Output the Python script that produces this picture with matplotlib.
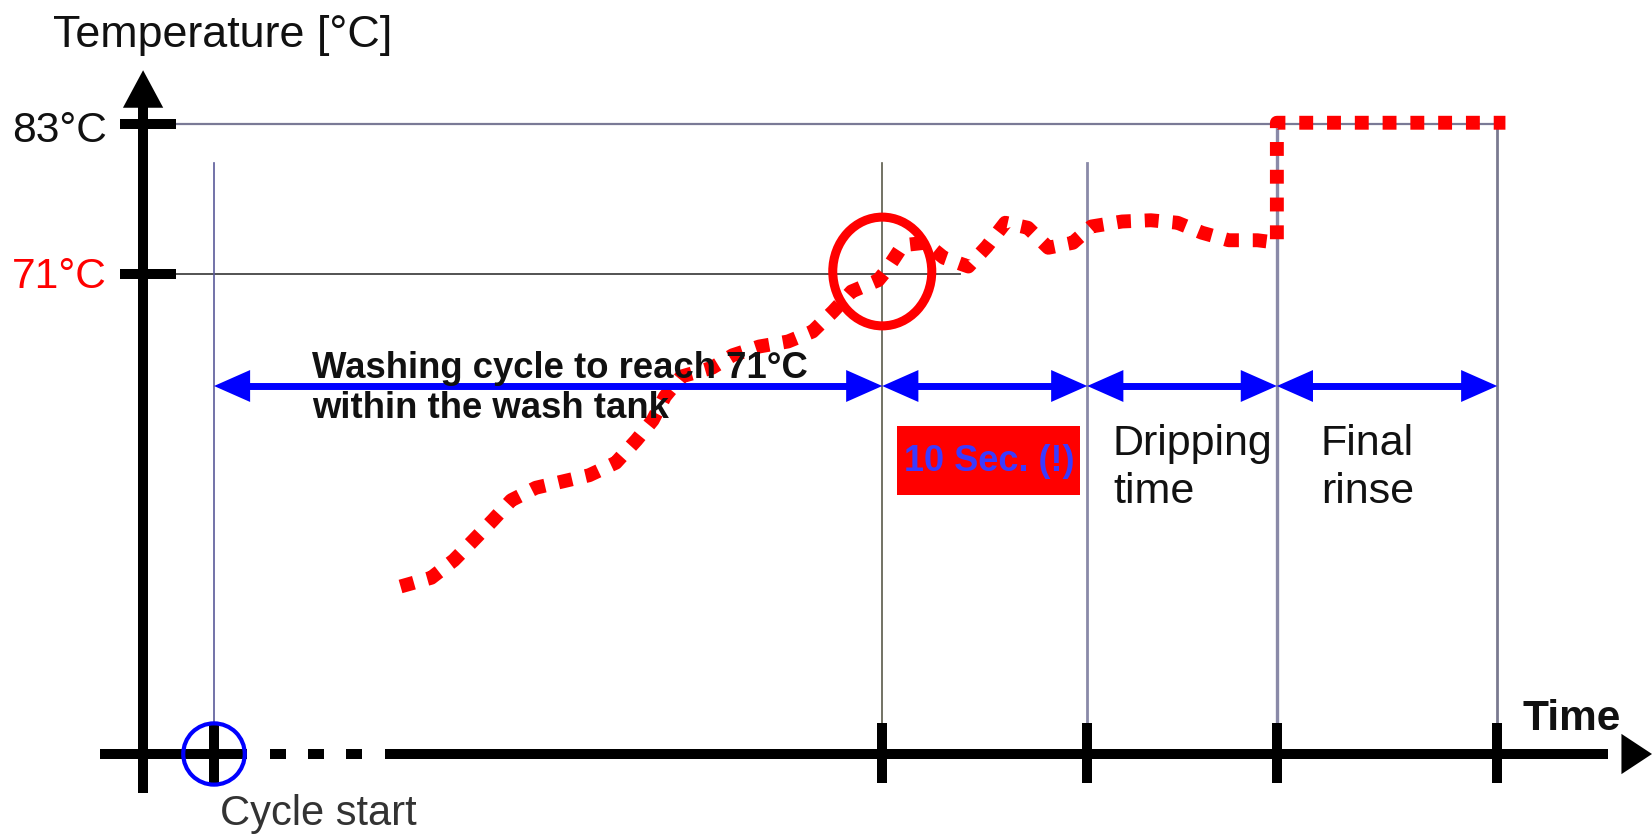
import matplotlib
matplotlib.use('Agg')
import matplotlib.pyplot as plt
from matplotlib.patches import Ellipse, Rectangle

plt.rcParams['font.family'] = ['Liberation Sans', 'DejaVu Sans']

# ---------------------------------------------------------------------------
# Data (time in s from cycle start, temperature in degC)
# ---------------------------------------------------------------------------
T_RINSE = 83.0
T_WASH = 71.0
T_LABELS = ['83°C', '71°C']

T_START = 0.0       # cycle start
T_REACH = 32.6      # wash tank reaches 71 degC
T_HOLD_END = 42.6   # + 10 s
T_DRIP_END = 51.85  # end of dripping time
T_RINSE_END = 62.6  # end of final rinse
PHASE_TIMES = [T_START, T_REACH, T_HOLD_END, T_DRIP_END, T_RINSE_END]

# measured temperature trace (dotted red)
curve_t = [9.1, 10.6, 11.7, 12.6, 13.6, 14.5, 15.7, 17.0, 18.3, 19.6, 20.6,
           21.4, 22.0, 22.8, 24.3, 25.3, 26.6, 28.0, 29.2, 30.2, 31.1, 32.4,
           32.8, 33.6, 34.7, 35.6, 36.8, 37.7, 38.6, 39.7, 40.7, 41.9, 42.8,
           44.3, 45.7, 47.0, 48.2, 49.5, 50.9, 51.85, 51.85, 63.0]
curve_T = [46.0, 46.7, 48.1, 49.6, 51.3, 52.9, 53.9, 54.4, 54.9, 55.9, 57.7,
           59.3, 61.2, 62.8, 63.5, 64.5, 65.2, 65.6, 66.4, 68.0, 69.6, 70.5,
           71.3, 73.3, 73.5, 72.3, 71.6, 73.2, 75.1, 74.7, 73.1, 73.5, 74.8,
           75.2, 75.3, 75.1, 74.3, 73.7, 73.7, 73.5, 83.1, 83.1]

# ---------------------------------------------------------------------------
# Frame: axes spans whole figure, limits chosen so units map to the canvas
# ---------------------------------------------------------------------------
XLIM = (-10.44, 70.15)
YLIM = (26.04, 92.92)
AXIS_T = -3.46      # position of temperature axis on time scale
AXIS_Y = 32.6       # position of time axis on temperature scale

fig = plt.figure(figsize=(16.52, 8.36), dpi=100)
ax = fig.add_axes([0, 0, 1, 1])
ax.set_xlim(*XLIM)
ax.set_ylim(*YLIM)
ax.axis('off')

BLACK = '#111111'
RED = '#ff0000'
BLUE = '#0000ff'

# thin guide lines
ax.plot([-1.85, 62.7], [T_RINSE, T_RINSE], color='#7a7a96', lw=1.6, zorder=1)
ax.plot([-1.85, 36.4], [T_WASH, T_WASH], color='#444444', lw=1.3, zorder=1)
guide_cols = ['#5a5a9a', '#5a5a4a', '#8a8aa8', '#8a8aa8', '#7a7a90']
guide_lw = [1.2, 1.2, 2.0, 2.4, 2.0]
for tt, c, lw in zip(PHASE_TIMES, guide_cols, guide_lw):
    top = T_RINSE if tt > T_HOLD_END else 79.9
    ax.plot([tt, tt], [AXIS_Y, top], color=c, lw=lw, zorder=1)

# temperature axis with arrow head
ax.plot([AXIS_T, AXIS_T], [29.5, 85.0], color='black', lw=7.2,
        solid_capstyle='butt', zorder=3)
ax.annotate('', xy=(AXIS_T, 87.3), xytext=(AXIS_T, 83.0),
            arrowprops=dict(arrowstyle='-|>,head_length=27,head_width=14.5',
                            mutation_scale=1, lw=0, color='black',
                            shrinkA=0, shrinkB=0), zorder=3)

# time axis: solid, short dotted break, solid, arrow head
ax.plot([-5.56, 1.6], [AXIS_Y, AXIS_Y], color='black', lw=7.2,
        solid_capstyle='butt', zorder=3)
ax.plot([2.73, 7.22], [AXIS_Y, AXIS_Y], color='black', lw=7.2,
        dash_capstyle='butt', linestyle=(0, (1.6, 2.2)), zorder=3)
ax.plot([8.34, 68.0], [AXIS_Y, AXIS_Y], color='black', lw=7.2,
        solid_capstyle='butt', zorder=3)
ax.annotate('', xy=(70.15, AXIS_Y), xytext=(66.0, AXIS_Y),
            arrowprops=dict(arrowstyle='-|>,head_length=22,head_width=14.5',
                            mutation_scale=1, lw=0, color='black',
                            shrinkA=0, shrinkB=0), zorder=3)

# tick marks
for temp in [T_RINSE, T_WASH]:
    ax.plot([-4.59, -1.85], [temp, temp], color='black', lw=7.2,
            solid_capstyle='butt', zorder=3)
for tt in PHASE_TIMES:
    ax.plot([tt, tt], [30.3, 35.1], color='black', lw=7.2,
            solid_capstyle='butt', zorder=3)

ax.text(-7.85, 89.16, 'Temperature [°C]', fontsize=32.3, color=BLACK,
        ha='left', va='baseline')
ax.text(-5.22, 81.56, T_LABELS[0], fontsize=30.6, color=BLACK,
        ha='right', va='baseline')
ax.text(-5.22, 69.88, T_LABELS[1], fontsize=30.6, color=RED,
        ha='right', va='baseline')
ax.text(63.85, 34.52, 'Time', fontsize=30.5, fontweight='bold', color=BLACK,
        ha='left', va='baseline')

# blue circle at cycle start
ax.add_patch(Ellipse((T_START, AXIS_Y), 3.0, 4.9, fill=False,
                     edgecolor=BLUE, lw=3.0, zorder=4))
ax.text(0.29, 26.92, 'Cycle start', fontsize=30, color='#333333',
        ha='left', va='baseline')

# measured temperature curve
ax.plot(curve_t, curve_T, color=RED, lw=10, linestyle=(0, (1.0, 1.0)),
        dash_capstyle='butt', zorder=2)

# red circle where 71 degC is reached
ax.add_patch(Ellipse((T_REACH, T_WASH + 0.2), 4.83, 8.7, fill=False,
                     edgecolor=RED, lw=6.5, zorder=4))

# phase arrows
ARROW_T = 62.04
for t0, t1 in zip(PHASE_TIMES[:-1], PHASE_TIMES[1:]):
    ax.plot([t0 + 1.0, t1 - 1.0], [ARROW_T, ARROW_T], color=BLUE, lw=5,
            solid_capstyle='butt', zorder=3)
    ax.annotate('', xy=(t1, ARROW_T), xytext=(t0, ARROW_T),
                arrowprops=dict(arrowstyle='<|-|>,head_length=26,head_width=11.5',
                                mutation_scale=1, lw=0, color=BLUE,
                                shrinkA=0, shrinkB=0), zorder=3)

ax.text(4.78, 62.68, 'Washing cycle to reach 71°C', fontsize=26.3,
        fontweight='bold', color=BLACK, ha='left', va='baseline', zorder=5)
ax.text(4.78, 59.48, 'within the wash tank', fontsize=26.3,
        fontweight='bold', color=BLACK, ha='left', va='baseline', zorder=5)

# 10 s box
ax.add_patch(Rectangle((33.32, 53.32), 8.92, 5.52, facecolor=RED,
                       edgecolor='none', zorder=3))
ax.text(37.8, 55.96, '10 Sec. (!)', fontsize=26, fontweight='bold',
        color='#3a3aff', ha='center', va='center', zorder=4)

ax.text(43.85, 56.52, 'Dripping', fontsize=31, color=BLACK,
        ha='left', va='baseline')
ax.text(43.85, 52.68, 'time', fontsize=31, color=BLACK,
        ha='left', va='baseline')
ax.text(54.0, 56.52, 'Final', fontsize=31, color=BLACK,
        ha='left', va='baseline')
ax.text(54.0, 52.68, 'rinse', fontsize=31, color=BLACK,
        ha='left', va='baseline')

fig.savefig('out.png', dpi=100)
